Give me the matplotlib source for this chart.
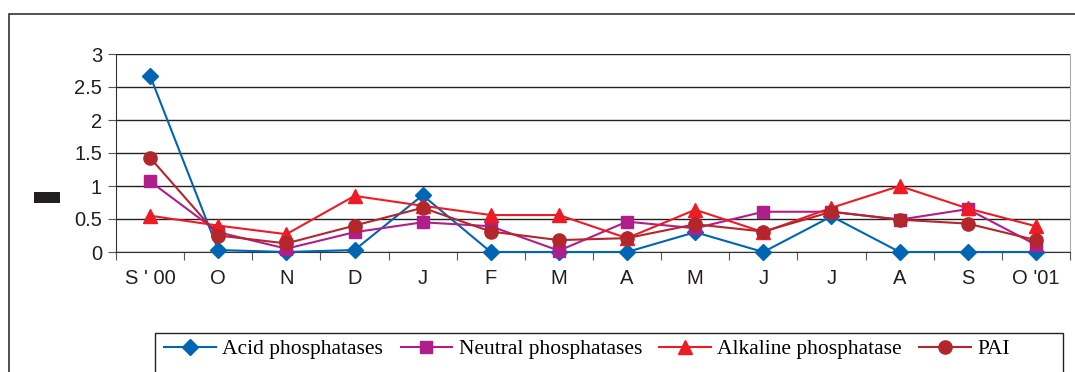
import matplotlib.pyplot as plt
from matplotlib.patches import Rectangle

months = ["S ' 00", "O", "N", "D", "J", "F", "M", "A", "M", "J", "J", "A", "S", "O '01"]
acid = [2.67, 0.03, 0.0, 0.03, 0.86, 0.0, 0.0, 0.0, 0.30, 0.0, 0.54, 0.0, 0.0, 0.0]
neutral = [1.07, 0.30, 0.05, 0.30, 0.45, 0.39, 0.02, 0.46, 0.36, 0.61, 0.61, 0.49, 0.65, 0.11]
alkaline = [0.55, 0.40, 0.27, 0.85, 0.70, 0.56, 0.56, 0.21, 0.64, 0.30, 0.67, 1.00, 0.66, 0.39]
pai = [1.43, 0.25, 0.13, 0.40, 0.67, 0.31, 0.18, 0.21, 0.42, 0.31, 0.61, 0.49, 0.43, 0.18]

series = [
    ("Acid phosphatases", acid, "#0066B3", "D", 8),
    ("Neutral phosphatases", neutral, "#B01E8C", "s", 8.5),
    ("Alkaline phosphatase", alkaline, "#ED1C24", "^", 9.5),
    ("PAI", pai, "#B3262B", "o", 9.5),
]

W, H = 1075, 372
fig = plt.figure(figsize=(W / 100, H / 100), dpi=100)

# outer chart frame (runs off the right and bottom edge)
fig.patches.append(Rectangle((9 / W, -0.2), 1.2, 1 - 14 / H + 0.2, transform=fig.transFigure,
                             fill=False, edgecolor="#333333", linewidth=1.2))
# blacked-out y label
fig.patches.append(Rectangle((34 / W, 1 - 203 / H), 26 / W, 11 / H, transform=fig.transFigure,
                             facecolor="#231f20", edgecolor="none"))
# legend frame (also runs off the bottom)
fig.patches.append(Rectangle((155 / W, -0.2), (1063 - 155) / W, 1 - 333 / H + 0.2,
                             transform=fig.transFigure, fill=False, edgecolor="#222222",
                             linewidth=1))

ax = fig.add_axes([116 / W, 1 - 252 / H, 954 / W, 198 / H])
x = list(range(len(months)))
for name, vals, color, marker, ms in series:
    ax.plot(x, vals, color=color, marker=marker, markersize=ms, linewidth=1.5,
            label=name, clip_on=False, zorder=3)

ax.set_xlim(-0.5, len(months) - 0.5)
ax.set_ylim(0, 3)
ax.set_yticks([0, 0.5, 1, 1.5, 2, 2.5, 3])
ax.set_yticklabels(["0", "0.5", "1", "1.5", "2", "2.5", "3"])
ax.yaxis.grid(True, color="#222222", linewidth=1)
ax.set_axisbelow(True)

ax.set_xticks([i - 0.5 for i in range(len(months) + 1)])
ax.set_xticklabels([])
ax.set_xticks(x, minor=True)
ax.set_xticklabels(months, minor=True)
ax.tick_params(axis="x", which="major", length=6, color="#555555", direction="out")
ax.tick_params(axis="x", which="minor", length=0, pad=12)
ax.tick_params(axis="y", length=6, color="#555555", pad=4)
for lab in ax.get_xticklabels(minor=True) + ax.get_yticklabels():
    lab.set_fontfamily("Liberation Sans")
    lab.set_fontsize(14.5)
    lab.set_color("#231f20")

ax.spines["top"].set_visible(False)
ax.spines["right"].set_color("#aaaaaa")
ax.spines["left"].set_color("#333333")
ax.spines["bottom"].set_color("#333333")

leg = fig.legend(loc="upper left", bbox_to_anchor=(160 / W, 1 - 335 / H), ncol=4,
                 prop={"family": "Liberation Serif", "size": 15.5}, frameon=False,
                 handlelength=2.4, handletextpad=0.3, columnspacing=0.8,
                 borderpad=0.2, borderaxespad=0)

fig.savefig("out.png", dpi=100)
